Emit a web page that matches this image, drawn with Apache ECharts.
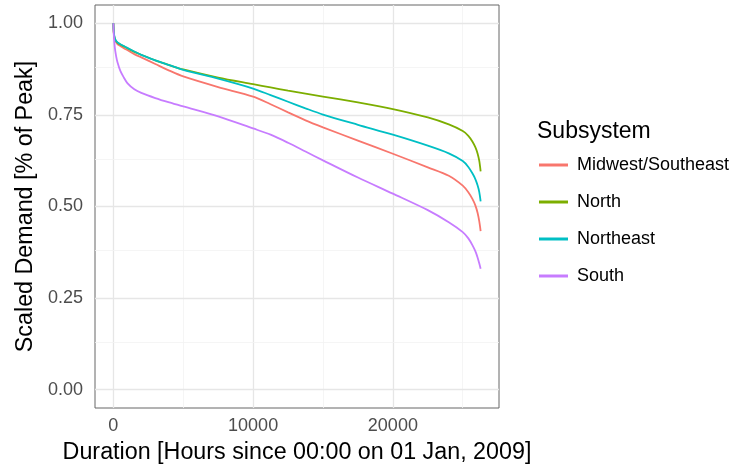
<!DOCTYPE html>
<html>
<head>
<meta charset="utf-8">
<script src="https://cdn.jsdelivr.net/npm/echarts@6/dist/echarts.min.js"></script>
<style>
  html, body { margin: 0; padding: 0; background: #fff; }
  #chart { width: 738px; height: 469px; }
</style>
</head>
<body>
<div id="chart"></div>
<script>
// Load duration curves, scaled to each subsystem's peak demand
const hours = [0, 30, 100, 200, 300, 500, 750, 1000, 1500, 2000, 3000, 4000, 5000, 7500,
  10000, 11250, 12500, 13750, 15000, 17500, 20000, 22500, 24000, 25000, 25400, 25700, 25900, 26060, 26180, 26280];

const midwestSoutheast = [1.0, 0.973, 0.955, 0.948, 0.943, 0.938, 0.932, 0.927, 0.916, 0.907, 0.889, 0.871, 0.855, 0.826,
  0.800, 0.779, 0.757, 0.735, 0.716, 0.680, 0.644, 0.607, 0.584, 0.557, 0.539, 0.520, 0.503, 0.483, 0.460, 0.433];
const north = [1.0, 0.975, 0.958, 0.951, 0.947, 0.942, 0.937, 0.932, 0.922, 0.914, 0.899, 0.886, 0.874, 0.852,
  0.834, 0.825, 0.816, 0.808, 0.800, 0.784, 0.766, 0.743, 0.724, 0.706, 0.693, 0.677, 0.662, 0.645, 0.625, 0.596];
const northeast = [1.0, 0.977, 0.960, 0.952, 0.948, 0.943, 0.938, 0.933, 0.923, 0.914, 0.899, 0.886, 0.873, 0.849,
  0.822, 0.804, 0.786, 0.768, 0.751, 0.723, 0.696, 0.666, 0.645, 0.624, 0.608, 0.590, 0.575, 0.558, 0.540, 0.514];
const south = [1.0, 0.970, 0.935, 0.910, 0.893, 0.870, 0.852, 0.837, 0.820, 0.810, 0.796, 0.784, 0.773, 0.746,
  0.713, 0.696, 0.674, 0.650, 0.626, 0.579, 0.535, 0.490, 0.457, 0.430, 0.413, 0.394, 0.378, 0.361, 0.345, 0.330];

const subsystems = ['Midwest/Southeast', 'North', 'Northeast', 'South'];
const seriesValues = [midwestSoutheast, north, northeast, south];
const colors = ['#F8766D', '#7CAE00', '#00BFC4', '#C77CFF'];

const xTicks = [0, 10000, 20000];
const xMinor = [5000, 15000, 25000];
const yTicks = [0, 0.25, 0.5, 0.75, 1.0];
const yMinor = [0.125, 0.375, 0.625, 0.875];

const xRange = [-1314, 27594];
const yRange = [-0.05, 1.05];

const FONT = '"Liberation Sans", Arial, Helvetica, sans-serif';

const chart = echarts.init(document.getElementById('chart'), null, { renderer: 'canvas' });

function gridLine(axis, v, major) {
  const o = {
    lineStyle: {
      color: major ? '#e6e6e6' : '#f2f2f2',
      width: major ? 1.3 : 0.8,
      type: 'solid'
    }
  };
  o[axis] = v;
  return o;
}

const gridLines = []
  .concat(xTicks.map(v => gridLine('xAxis', v, true)))
  .concat(xMinor.map(v => gridLine('xAxis', v, false)))
  .concat(yTicks.map(v => gridLine('yAxis', v, true)))
  .concat(yMinor.map(v => gridLine('yAxis', v, false)));

// panel grid lines sit underneath the curves
const series = [{
  name: '_grid',
  type: 'line',
  data: [],
  z: 1,
  silent: true,
  markLine: {
    z: 1,
    silent: true,
    symbol: ['none', 'none'],
    label: { show: false },
    animation: false,
    data: gridLines
  }
}].concat(subsystems.map((name, i) => ({
  name: name,
  type: 'line',
  z: 10 + i,
  data: hours.map((h, k) => [h, seriesValues[i][k]]),
  showSymbol: false,
  smooth: 0.3,
  lineStyle: { color: colors[i], width: 1.8 },
  itemStyle: { color: colors[i] },
  animation: false
})));

chart.setOption({
  backgroundColor: '#ffffff',
  animation: false,
  textStyle: { fontFamily: FONT },
  title: {
    text: 'Subsystem',
    left: 532,
    top: 115,
    textStyle: { fontFamily: FONT, fontSize: 23, fontWeight: 'normal', color: '#000' }
  },
  legend: {
    data: subsystems,
    orient: 'vertical',
    left: 534,
    top: 150,
    icon: 'rect',
    itemWidth: 29,
    itemHeight: 3,
    itemGap: 17,
    textStyle: { fontFamily: FONT, fontSize: 18, color: '#000', lineHeight: 20, padding: [0, 0, 0, 4] }
  },
  grid: {
    left: 95,
    right: 239,
    top: 5,
    bottom: 60,
    show: true,
    borderColor: '#666',
    borderWidth: 1,
    backgroundColor: 'transparent'
  },
  xAxis: {
    type: 'value',
    min: xRange[0],
    max: xRange[1],
    name: 'Duration [Hours since 00:00 on 01 Jan, 2009]',
    nameLocation: 'middle',
    nameGap: 33,
    nameTextStyle: { fontFamily: FONT, fontSize: 23.3, color: '#000' },
    axisLine: { show: false },
    axisTick: { show: true, length: 6, inside: false, customValues: xTicks, lineStyle: { color: '#333' } },
    axisLabel: { customValues: xTicks, margin: 9, fontFamily: FONT, fontSize: 18, color: '#4d4d4d',
      formatter: v => String(v) },
    splitLine: { show: false }
  },
  yAxis: {
    type: 'value',
    min: yRange[0],
    max: yRange[1],
    name: 'Scaled Demand [% of Peak]',
    nameLocation: 'middle',
    nameGap: 56,
    nameRotate: 90,
    nameTextStyle: { fontFamily: FONT, fontSize: 23.3, color: '#000' },
    axisLine: { show: false },
    axisTick: { show: true, length: 6, inside: false, customValues: yTicks, lineStyle: { color: '#333' } },
    axisLabel: { customValues: yTicks, margin: 12, fontFamily: FONT, fontSize: 18, color: '#4d4d4d',
      formatter: v => v.toFixed(2) },
    splitLine: { show: false }
  },
  series: series
});
</script>
</body>
</html>
